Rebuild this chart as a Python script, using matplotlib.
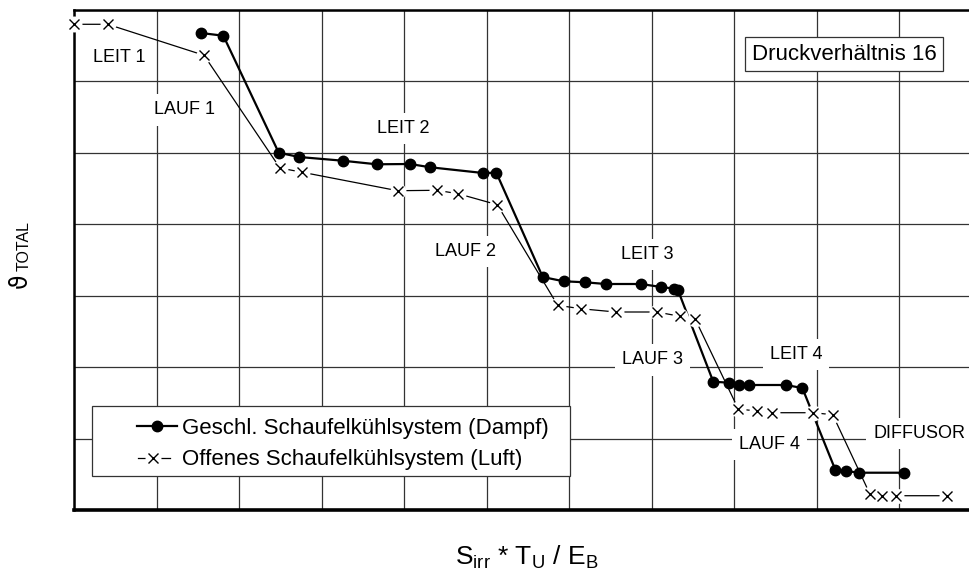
import matplotlib
matplotlib.use('Agg')
import matplotlib.pyplot as plt
from matplotlib.lines import Line2D
from matplotlib.patches import Rectangle

plt.rcParams['font.family'] = ['Liberation Sans', 'DejaVu Sans']
plt.rcParams['mathtext.fontset'] = 'custom'
plt.rcParams['mathtext.rm'] = 'Liberation Sans'
plt.rcParams['mathtext.it'] = 'Liberation Sans:italic'

# ---- data (grid units) ----
closed_x = [1.538, 1.809, 2.480, 2.728, 3.255, 3.667, 4.070, 4.316, 4.955, 5.116,
            5.678, 5.932, 6.190, 6.441, 6.865, 7.115, 7.272, 7.317,
            7.744, 7.938, 8.056, 8.177, 8.621, 8.823,
            9.222, 9.356, 9.506, 10.058]
closed_y = [6.678, 6.640, 5.002, 4.942, 4.890, 4.840, 4.844, 4.798, 4.718, 4.722,
            3.262, 3.202, 3.188, 3.164, 3.164, 3.122, 3.098, 3.076,
            1.796, 1.782, 1.750, 1.750, 1.750, 1.708,
            0.564, 0.546, 0.522, 0.522]

open_x = [0.0, 0.408, 1.575, 2.495, 2.762, 3.921, 4.397, 4.652, 5.128,
          5.859, 6.138, 6.562, 7.059, 7.341, 7.526,
          8.047, 8.270, 8.455, 8.956, 9.191,
          9.643, 9.792, 9.954, 10.572]
open_y = [6.800, 6.800, 6.366, 4.788, 4.729, 4.470, 4.476, 4.428, 4.274,
          2.866, 2.818, 2.772, 2.772, 2.712, 2.670,
          1.414, 1.386, 1.362, 1.362, 1.334,
          0.220, 0.200, 0.200, 0.200]

stage_labels = ['LEIT 1', 'LAUF 1', 'LEIT 2', 'LAUF 2', 'LEIT 3', 'LAUF 3',
                'LEIT 4', 'LAUF 4', 'DIFFUSOR']
stage_x = [0.551, 1.341, 3.992, 4.745, 6.945, 7.010, 8.746, 8.423, 10.239]
stage_y = [6.328, 5.600, 5.344, 3.616, 3.580, 2.100, 2.180, 0.920, 1.068]

series_names = ['Geschl. Schaufelkühlsystem (Dampf)',
                'Offenes Schaufelkühlsystem (Luft)']
title_box = 'Druckverhältnis 16'
title_pos = (9.328, 6.380)

# ---- figure ----
W, H = 970, 570
fig = plt.figure(figsize=(W / 100, H / 100), dpi=100)
ax = fig.add_axes([74 / W, 60 / H, (W - 74) / W, 500 / H])
ax.set_xlim(0, (W - 74) / 82.55)
ax.set_ylim(0, 7)
ax.set_xticks(range(0, 11))
ax.set_yticks(range(0, 8))
ax.tick_params(length=0, labelbottom=False, labelleft=False)
ax.grid(True, color='#333333', lw=0.9, zorder=0.5)
ax.set_axisbelow(True)
ax.spines['right'].set_visible(False)
ax.spines['top'].set_linewidth(1.8)
ax.spines['left'].set_linewidth(1.8)
ax.spines['bottom'].set_linewidth(2.6)

# lines
ax.plot(closed_x, closed_y, color='black', lw=1.6, zorder=3, clip_on=False)
ax.plot(open_x, open_y, color='black', lw=0.9, zorder=3, clip_on=False)
# white gaps around the crosses
ax.plot(open_x, open_y, ls='none', marker='o', ms=11.5, mfc='white', mew=0,
        zorder=4, clip_on=False)
ax.plot(open_x, open_y, ls='none', marker='x', ms=7.3, mew=1.0, color='black',
        zorder=5, clip_on=False)
ax.plot(closed_x, closed_y, ls='none', marker='o', ms=7.5, color='black',
        zorder=5, clip_on=False)

for s, x, y in zip(stage_labels, stage_x, stage_y):
    ax.text(x, y, s, ha='center', va='center', fontsize=13, zorder=2,
            bbox=dict(boxstyle='square,pad=0.4', fc='white', ec='none'))

ax.text(title_pos[0], title_pos[1], title_box, ha='center', va='center',
        fontsize=16, zorder=6,
        bbox=dict(boxstyle='square,pad=0.3', fc='white', ec='#333333', lw=0.9))

# ---- legend ----
PT = 72 / 100.0


class SampleHandler:
    def __init__(self, kind):
        self.kind = kind

    def legend_artist(self, legend, orig_handle, fontsize, handlebox):
        x0 = -handlebox.xdescent
        w, h = handlebox.width, handlebox.height
        tr = handlebox.get_transform()
        yc = h / 2
        end = x0 + w
        if self.kind == 'closed':
            ln = Line2D([end - 40 * PT, end], [yc, yc], color='black', lw=1.6,
                        transform=tr)
            mk = Line2D([end - 20 * PT], [yc], ls='none', marker='o', ms=7.5,
                        color='black', transform=tr)
            handlebox.add_artist(ln)
            handlebox.add_artist(mk)
            return ln
        ln = Line2D([end - 39 * PT, end - 7 * PT], [yc, yc], color='black',
                    lw=0.9, transform=tr)
        halo = Line2D([end - 23.5 * PT], [yc], ls='none', marker='o', ms=11.5,
                      mfc='white', mew=0, transform=tr)
        mk = Line2D([end - 23.5 * PT], [yc], ls='none', marker='x', ms=7.3,
                    mew=1.0, color='black', transform=tr)
        handlebox.add_artist(ln)
        handlebox.add_artist(halo)
        handlebox.add_artist(mk)
        return ln


frame = Rectangle((92.3 / W, 1 - 476 / H), (570 - 92.3) / W, 70 / H,
                  transform=fig.transFigure, fc='white', ec='#333333', lw=0.9,
                  zorder=6, clip_on=False)
ax.add_patch(frame)

h1 = Line2D([], [], color='black')
h2 = Line2D([], [], color='black')
leg = ax.legend([h1, h2], series_names,
                handler_map={h1: SampleHandler('closed'), h2: SampleHandler('open')},
                loc='upper left',
                bbox_to_anchor=(99.8 / W, 1 - 417.9 / H),
                bbox_transform=fig.transFigure,
                borderaxespad=0, borderpad=0, fontsize=16,
                handlelength=3.47, handletextpad=0.245, labelspacing=0.47,
                frameon=False)
leg.set_zorder(7)

# ---- axis labels ----
fig.text(526.7 / W, 5 / H,
         r'S$_{\mathregular{irr}}$ * T$_{\mathregular{U}}$ / E$_{\mathregular{B}}$',
         ha='center', va='baseline', fontsize=19)
fig.text(20 / W, 1 - 281 / H, 'ϑ', rotation=90, ha='center', va='center',
         fontsize=17, family=['DejaVu Sans'])
fig.text(24.5 / W, 1 - 246 / H, 'TOTAL', rotation=90, ha='center',
         va='center', fontsize=11.5)

fig.savefig('out.png', dpi=100, facecolor='white')
